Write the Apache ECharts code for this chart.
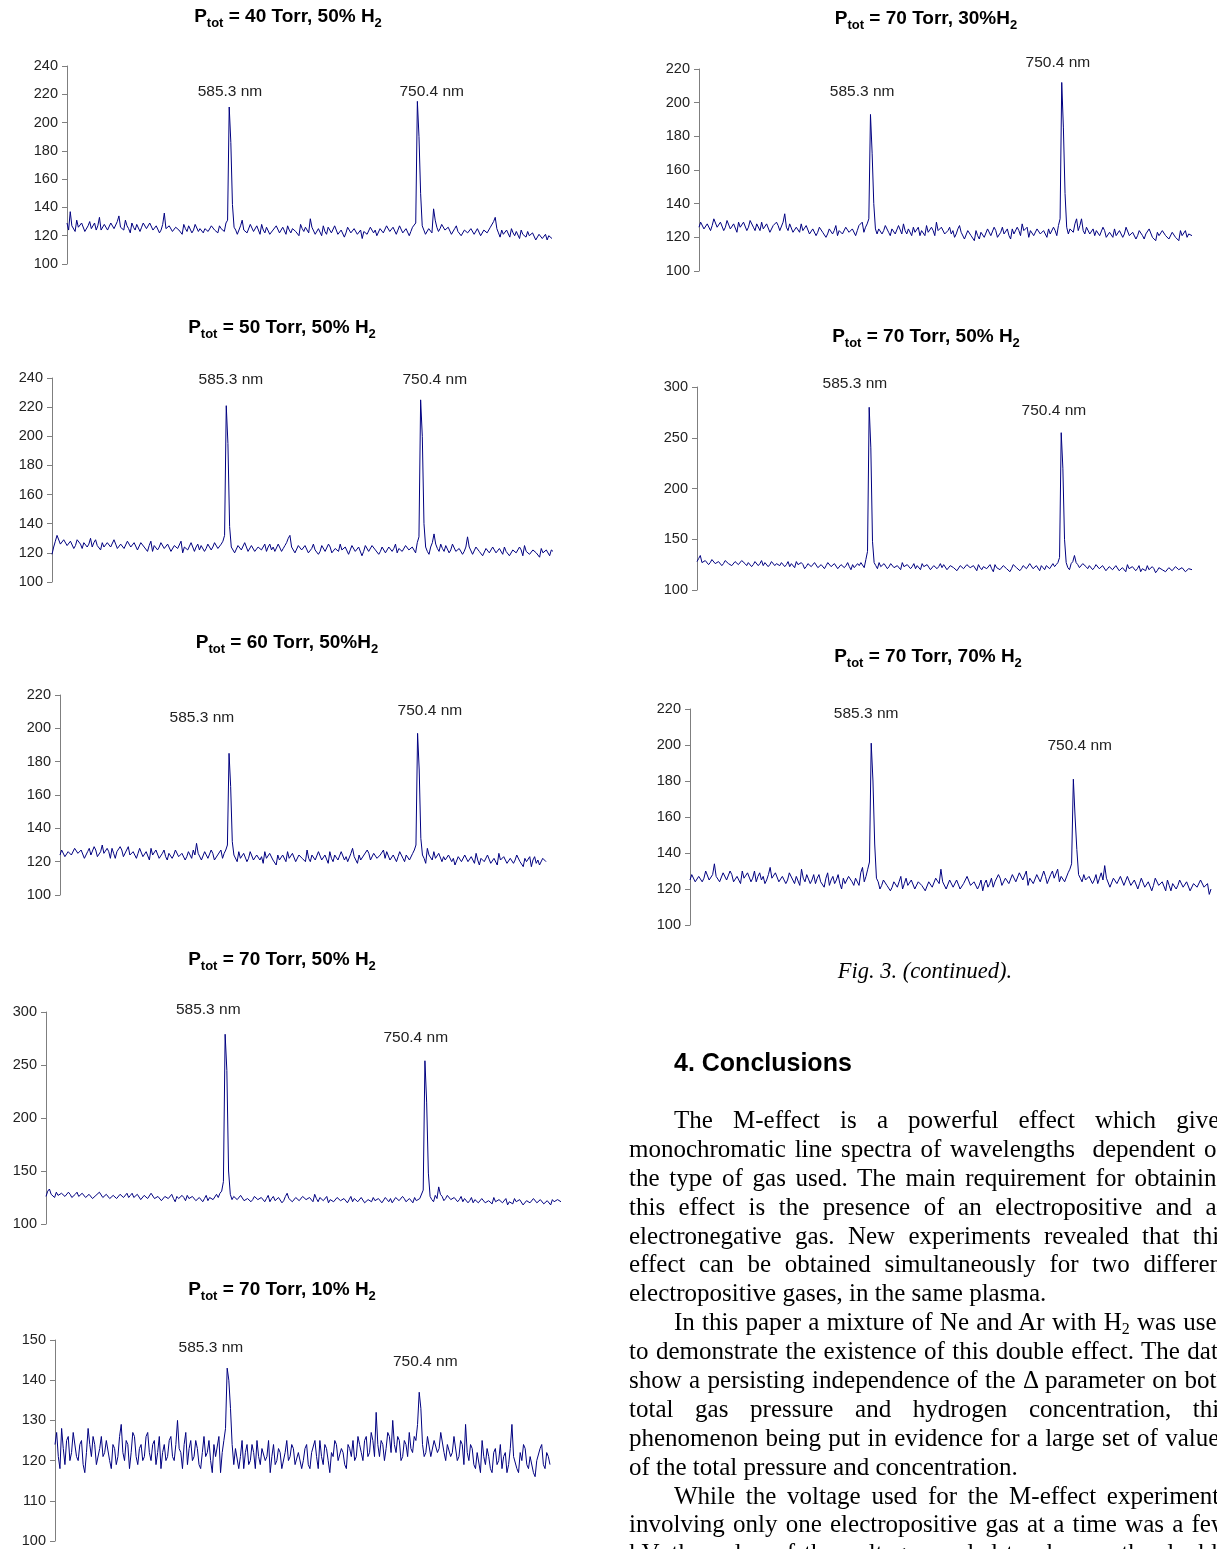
<!DOCTYPE html>
<html>
<head>
<meta charset="utf-8">
<script src="https://cdn.jsdelivr.net/npm/echarts@6/dist/echarts.min.js"></script>
<style>
  html, body { margin: 0; padding: 0; background: #fff; overflow: hidden; }
  #main { position: absolute; left: 0; top: 0; width: 1217px; height: 1549px; }
  .cap { position: absolute; left: 725px; top: 957px; width: 400px; text-align: center;
         font: italic 22.5px "Liberation Serif", serif; line-height: 28px; color: #000; }
  .head { position: absolute; left: 674px; top: 1047px; font: bold 25px "Liberation Sans", Arial, sans-serif;
          line-height: 30px; color: #000; }
  .body { position: absolute; left: 629px; top: 1106px; width: 600px;
          font: 25px "Liberation Serif", serif; color: #000; }
  .body div { height: 28.9px; line-height: 28.9px; white-space: nowrap;
              text-align: justify; text-align-last: justify; }
  .body div.ind { padding-left: 45px; }
  .body div.end { text-align-last: left; }
  sub { font-size: 16px; line-height: 0; vertical-align: -4px; }
</style>
</head>
<body>
<div id="main"></div>
<div class="cap">Fig. 3. (continued).</div>
<div class="head">4. Conclusions</div>
<div class="body">
  <div class="ind">The M-effect is a powerful effect which gives</div>
  <div>monochromatic line spectra of wavelengths&nbsp; dependent on</div>
  <div>the type of gas used. The main requirement for obtaining</div>
  <div>this effect is the presence of an electropositive and an</div>
  <div>electronegative gas. New experiments revealed that this</div>
  <div>effect can be obtained simultaneously for two different</div>
  <div class="end">electropositive gases, in the same plasma.</div>
  <div class="ind">In this paper a mixture of Ne and Ar with H<sub>2</sub> was used</div>
  <div>to demonstrate the existence of this double effect. The data</div>
  <div>show a persisting independence of the &Delta; parameter on both</div>
  <div>total gas pressure and hydrogen concentration, this</div>
  <div>phenomenon being put in evidence for a large set of values</div>
  <div class="end">of the total pressure and concentration.</div>
  <div class="ind">While the voltage used for the M-effect experiments</div>
  <div>involving only one electropositive gas at a time was a few</div>
  <div>kV, the value of the voltage needed to observe the double</div>
</div>
<script>
// spectra, 300 samples each (x = sample index)
const s40_50 = [
  129,124,137,127,126,123,131,126,125,129,128,123,124,127,130,125,126,129,124,127,133,124,125,128,127,124,123,129,128,125,126,130,134,126,127,124,131,127,125,122,129,126,124,128,128,123,126,129,130,125,
  125,129,128,124,123,127,127,122,124,128,136,125,124,127,126,123,122,126,127,124,125,121,128,125,123,127,126,122,124,128,127,123,125,126,122,125,126,123,124,127,128,124,125,122,127,125,124,123,129,131,
  211,186,142,126,124,121,122,127,131,124,125,122,123,128,127,123,124,127,126,121,128,124,122,126,125,121,120,124,124,127,126,122,123,126,125,121,127,124,122,125,126,123,124,120,128,125,123,126,125,122,
  132,126,125,121,122,125,124,120,127,123,121,126,125,122,123,127,126,121,120,124,124,119,122,126,126,122,123,125,125,121,121,124,118,123,124,121,122,126,126,122,124,120,121,125,125,122,123,127,127,123,
  122,126,125,121,124,127,126,122,121,125,124,120,123,126,126,129,215,190,150,127,124,121,121,125,124,122,139,131,126,123,125,128,128,124,123,126,126,121,122,125,127,123,124,120,121,124,125,122,123,125,
  126,121,122,125,124,120,121,124,125,122,123,126,127,130,133,125,122,119,124,121,121,124,123,119,125,122,120,123,122,118,124,121,121,119,123,120,119,122,121,117,118,121,122,118,119,121,117,120,120,118
];
const s50_50 = [
  119,124,128,132,131,126,126,129,129,125,124,128,127,123,125,129,130,126,123,127,128,124,126,130,124,127,129,125,125,122,127,124,123,127,128,124,125,129,126,123,122,126,127,123,124,128,128,124,125,127,
  126,122,123,127,127,124,124,121,125,128,121,125,126,122,124,127,127,123,123,126,125,121,122,125,126,123,124,128,120,124,125,122,123,127,126,121,124,126,122,125,125,121,123,126,126,122,124,127,127,123,
  123,126,128,132,221,195,138,124,124,120,121,125,125,122,123,127,126,121,122,125,124,121,120,124,125,122,123,126,121,124,126,122,124,121,122,126,125,121,123,125,127,130,132,124,124,120,121,125,125,122,
  122,125,124,120,120,123,126,122,123,119,121,125,125,121,122,126,124,120,119,123,123,121,126,122,121,124,124,119,122,125,125,121,120,124,123,118,121,125,124,121,122,125,126,122,123,119,121,124,124,120,
  121,124,125,121,123,126,120,123,124,121,122,125,126,122,121,124,123,120,127,131,225,200,140,124,121,119,124,127,133,126,123,121,126,123,121,125,124,120,122,126,125,121,120,123,123,119,121,124,131,124,
  123,119,120,124,124,121,122,118,119,123,123,120,121,124,125,120,120,123,122,119,124,121,121,118,119,122,123,120,120,124,122,118,125,121,121,119,118,122,122,120,120,117,123,120,119,122,121,118,122,121
];
const s60_50 = [
  124,127,128,123,123,126,127,124,125,128,129,125,124,127,126,122,122,126,128,124,125,129,127,123,123,126,130,125,124,128,126,122,128,125,122,126,125,129,127,123,124,127,129,124,123,126,126,122,125,128,
  127,123,122,126,125,121,128,124,124,127,126,122,123,125,127,123,121,125,125,122,124,127,128,123,122,125,126,121,123,126,125,122,127,124,131,125,124,121,122,126,126,122,123,127,125,121,121,124,124,127,
  122,125,127,130,185,165,132,124,123,120,126,122,121,125,124,120,122,126,125,121,120,124,124,121,123,119,126,122,121,125,125,121,122,118,124,121,120,124,123,120,126,122,122,125,124,120,121,124,125,122,
  123,120,127,122,120,124,124,121,122,126,125,121,121,124,123,119,126,122,120,124,124,121,122,126,125,121,123,120,121,125,128,123,122,119,124,121,120,124,123,127,125,121,122,125,126,122,121,124,124,127,
  122,126,125,121,121,124,124,120,123,126,126,122,120,124,124,121,122,125,127,130,197,175,134,124,122,119,128,124,124,121,126,122,121,125,125,120,123,121,120,124,124,120,122,118,119,123,123,120,121,124,
  124,120,120,123,122,119,125,121,118,122,123,120,121,124,124,119,119,122,122,118,125,121,120,123,123,119,118,122,122,119,121,124,124,120,119,117,122,120,120,123,117,121,123,119,121,118,119,122,122,120
];
const s70_50a = [
  126,131,133,128,128,125,130,127,127,129,129,126,126,130,128,125,125,128,130,126,127,129,129,125,126,128,128,124,124,127,127,130,129,125,126,128,128,124,125,127,127,124,124,128,128,125,126,129,125,127,
  129,125,126,128,127,123,124,127,126,124,125,129,128,124,124,126,126,122,123,126,127,124,125,128,124,121,126,124,123,127,125,122,127,124,124,126,126,122,123,125,125,121,124,127,122,125,126,123,124,128,
  125,129,131,140,279,245,150,128,123,126,127,123,124,127,126,122,121,124,125,121,123,126,127,123,122,125,125,121,124,127,121,124,126,122,123,125,125,120,122,126,129,124,124,121,121,125,125,122,123,126,
  127,123,122,125,124,121,128,124,121,125,125,122,123,126,120,123,124,121,122,125,126,122,121,124,124,120,123,126,121,124,125,121,122,125,124,120,120,123,123,121,125,122,122,124,124,120,121,125,123,121,
  124,120,121,125,125,122,122,126,124,121,120,124,123,120,125,122,121,124,124,132,254,215,148,126,123,121,127,124,135,128,126,122,124,127,128,123,122,125,125,121,123,126,121,124,124,120,122,125,120,123,
  123,120,121,124,124,120,119,122,122,119,125,121,120,123,123,120,121,124,118,121,122,119,124,121,120,123,122,118,119,122,123,120,121,124,124,120,120,123,122,119,119,122,121,118,123,121,120,123,122,121
];
const s70_10 = [
  124,127,121,118,128,123,119,125,126,120,122,127,127,121,120,124,125,119,117,122,128,124,121,126,124,119,119,123,126,121,122,125,125,120,118,124,123,119,121,126,129,122,120,125,124,118,122,127,126,121,
  119,123,124,120,121,126,127,122,120,124,125,119,122,126,118,122,124,120,121,125,126,121,120,124,130,123,122,118,124,127,119,123,125,120,121,125,123,119,118,122,126,121,122,125,120,117,124,121,121,126,
  117,122,125,128,143,140,133,124,119,123,123,118,121,125,118,122,124,119,120,124,122,118,125,121,119,123,123,120,121,125,117,121,124,119,120,123,122,118,118,122,125,120,121,124,123,119,119,122,122,118,
  120,123,124,119,118,122,122,125,121,118,125,121,119,124,123,120,117,122,121,125,124,120,120,123,122,119,118,124,123,121,125,120,121,126,124,122,120,125,126,121,122,127,125,121,132,124,121,125,124,120,
  123,127,126,122,130,124,122,126,125,120,121,125,124,121,127,123,122,126,125,129,137,133,124,121,122,126,126,121,121,125,125,122,123,127,127,122,120,124,124,121,122,126,126,120,121,125,124,119,129,122,
  120,124,123,119,118,122,122,117,125,121,119,123,121,118,117,122,123,119,120,124,118,121,122,117,119,123,129,121,121,118,117,122,120,124,123,119,118,121,121,117,116,120,120,123,124,119,118,122,121,119
];
const s70_30 = [
  126,129,130,125,124,128,129,124,127,131,131,126,125,129,128,124,126,130,130,125,124,128,127,123,129,126,125,129,128,124,126,130,131,126,124,128,127,124,129,125,125,128,128,123,124,127,126,129,127,124,
  125,129,134,126,124,128,127,123,122,126,126,123,128,124,124,127,126,122,121,125,125,121,123,126,127,123,124,120,122,125,126,122,124,127,121,124,125,122,123,126,127,123,122,125,125,121,124,127,126,129,
  123,126,128,131,193,170,140,125,122,125,126,122,124,127,127,123,121,125,125,122,123,127,126,122,128,124,122,125,124,121,126,123,123,126,121,124,125,121,127,123,122,126,124,121,129,124,123,126,125,122,
  121,124,126,122,124,120,122,125,127,123,123,119,120,124,125,121,122,118,124,121,119,123,123,120,121,125,125,121,122,126,124,120,120,123,126,122,123,125,121,119,125,122,122,126,124,121,128,124,123,126,
  120,124,124,121,122,125,126,122,121,124,123,120,125,122,122,126,124,121,127,131,212,185,146,126,122,125,126,123,128,131,124,127,131,124,122,126,126,122,123,125,121,124,125,121,122,126,124,120,120,123,
  123,120,125,121,121,124,124,120,122,126,126,121,120,123,123,119,121,124,125,121,119,122,122,125,124,120,121,118,123,121,120,124,125,121,122,119,119,123,123,120,121,118,124,121,122,124,120,122,123,121
];
const s70_50b = [
  128,131,134,127,126,129,129,125,127,130,130,126,125,128,128,124,126,129,129,126,127,124,125,128,128,125,126,129,130,126,124,127,127,123,125,128,128,124,126,129,124,127,127,123,125,128,128,124,126,125,
  124,127,127,123,125,128,123,126,126,122,128,125,124,127,125,121,123,126,127,123,124,127,126,122,122,125,125,121,124,127,127,123,123,126,125,121,122,125,126,122,124,127,123,120,125,122,122,126,124,127,
  126,122,130,138,280,240,148,127,124,121,127,123,122,126,125,121,123,126,126,122,121,124,124,120,127,123,122,125,125,121,123,126,121,124,124,120,126,123,122,125,124,120,121,124,125,121,123,126,122,125,
  124,120,121,124,125,122,123,119,120,124,124,121,122,125,126,122,121,124,123,119,125,122,120,123,124,121,122,125,121,118,125,122,123,120,120,124,124,121,122,118,121,125,125,122,123,119,121,124,124,121,
  122,126,125,121,121,124,123,119,124,122,120,124,125,121,122,126,123,125,127,132,255,220,150,127,122,120,126,128,134,127,125,122,123,126,127,123,121,124,124,120,122,125,125,121,121,124,123,119,120,123,
  124,120,121,124,123,119,119,122,122,118,125,121,120,123,123,119,121,124,118,121,122,119,124,120,120,123,121,117,119,122,123,120,121,118,118,122,122,119,120,123,123,120,119,122,121,118,118,121,121,120
];
const s70_70 = [
  125,128,129,124,123,127,128,124,126,130,130,125,124,128,134,127,127,124,125,129,129,125,126,130,128,124,124,127,127,123,130,126,125,129,128,124,126,130,124,127,129,125,127,123,125,128,132,126,126,129,
  128,124,124,127,127,123,125,129,129,125,123,127,126,122,131,126,124,128,127,123,125,128,123,126,128,124,124,121,126,129,122,125,127,123,125,128,123,120,126,123,124,127,128,124,122,126,125,122,129,132,
  124,127,131,135,201,180,145,126,124,120,122,125,126,122,123,119,121,124,125,121,124,127,120,123,126,122,122,125,124,120,121,124,125,122,123,119,120,124,124,121,122,126,126,123,131,124,123,120,121,125,
  125,121,122,125,124,120,120,123,123,127,126,122,121,124,124,120,122,125,119,123,125,121,123,126,121,124,124,128,126,122,122,126,125,123,123,128,127,124,124,129,128,125,125,130,122,126,127,123,124,128,
  129,124,125,130,127,123,124,128,130,126,126,131,124,127,128,124,125,129,131,134,181,160,142,128,126,124,128,125,124,127,127,123,125,128,123,126,129,125,133,126,125,121,122,126,127,123,124,127,126,122,
  123,127,128,122,121,125,125,120,123,126,126,121,120,124,124,119,122,126,127,122,121,124,123,119,125,122,119,123,124,120,122,125,126,121,121,124,123,119,120,123,124,121,122,125,125,121,121,123,117,120
];

const spectra = [s40_50, s50_50, s60_50, s70_50a, s70_10, s70_30, s70_50b, s70_70];
const pressures = [40, 50, 60, 70, 70, 70, 70, 70];
const h2Text = ['50% H', '50% H', '50%H', '50% H', '10% H', '30%H', '50% H', '70% H'];
const yMin = [100, 100, 100, 100, 100, 100, 100, 100];
const yMax = [240, 240, 220, 300, 150, 220, 300, 220];
const yStep = [20, 20, 20, 50, 10, 20, 50, 20];
const lineNames = ['585.3 nm', '750.4 nm'];
// where the line names sit: [fraction along the trace, intensity, extra px up]
const nameAt = [
  [[0.336, 221.6], [0.752, 221.6]],
  [[0.357, 238.6], [0.764, 238.6]],
  [[0.292, 206.2], [0.761, 210.4]],
  [[0.315, 300, -2], [0.718, 275.5]],
  [[0.315, 148], [0.748, 144.5]],
  [[0.331, 206.3], [0.728, 220, -6]],
  [[0.319, 300, -3], [0.721, 276.4]],
  [[0.338, 217.2], [0.748, 199.4]]
];

// panel boxes in px: left, top, width, height, title centre x, title centre y
const boxes = [
  [67, 66, 485, 198, 288, 17],
  [52, 378, 501, 204, 282, 328],
  [60, 695, 486, 200, 287, 643],
  [46, 1012, 515, 212, 282, 960],
  [55, 1340, 495, 201, 282, 1290],
  [699, 69, 493, 202, 926, 19],
  [697, 387, 495, 203, 926, 337],
  [690, 709, 521, 216, 928, 657]
];

const sans = '"Liberation Sans", Arial, sans-serif';
const chart = echarts.init(document.getElementById('main'));

const grid = [], xAxis = [], yAxis = [], series = [], graphic = [];
boxes.forEach((b, k) => {
  const n = spectra[k].length;
  grid.push({ left: b[0], top: b[1], width: b[2], height: b[3], containLabel: false });
  xAxis.push({ gridIndex: k, type: 'value', min: 0, max: n - 1, show: false });
  yAxis.push({
    gridIndex: k, type: 'value', min: yMin[k], max: yMax[k], interval: yStep[k],
    axisLine: { show: true, lineStyle: { color: '#7f7f7f', width: 1 } },
    axisTick: { show: true, length: 5, lineStyle: { color: '#7f7f7f' } },
    axisLabel: { fontFamily: sans, fontSize: 14.5, color: '#222', margin: 9 },
    splitLine: { show: false }
  });
  series.push({
    type: 'line', xAxisIndex: k, yAxisIndex: k,
    data: spectra[k].map((v, i) => [i, v]),
    showSymbol: false, symbol: 'none', animation: false,
    lineStyle: { color: '#000080', width: 1 },
    markPoint: {
      symbolSize: 0, animation: false,
      label: { show: true, position: 'inside', formatter: '{b}', fontFamily: sans, fontSize: 15.5, color: '#222' },
      data: nameAt[k].map((p, j) => ({
        name: lineNames[j], coord: [p[0] * (n - 1), p[1]],
        label: { offset: [0, p[2] || 0] }
      }))
    }
  });
  graphic.push({
    type: 'text', x: b[4], y: b[5],
    style: {
      text: '{b|P}{s|tot}{b| = ' + pressures[k] + ' Torr, ' + h2Text[k] + '}{s|2}',
      align: 'center', verticalAlign: 'middle',
      rich: {
        b: { fontFamily: sans, fontWeight: 'bold', fontSize: 19, fill: '#000', lineHeight: 26 },
        s: { fontFamily: sans, fontWeight: 'bold', fontSize: 13, fill: '#000', lineHeight: 26, verticalAlign: 'bottom' }
      }
    }
  });
});

chart.setOption({ animation: false, grid, xAxis, yAxis, series, graphic });
</script>
</body>
</html>
